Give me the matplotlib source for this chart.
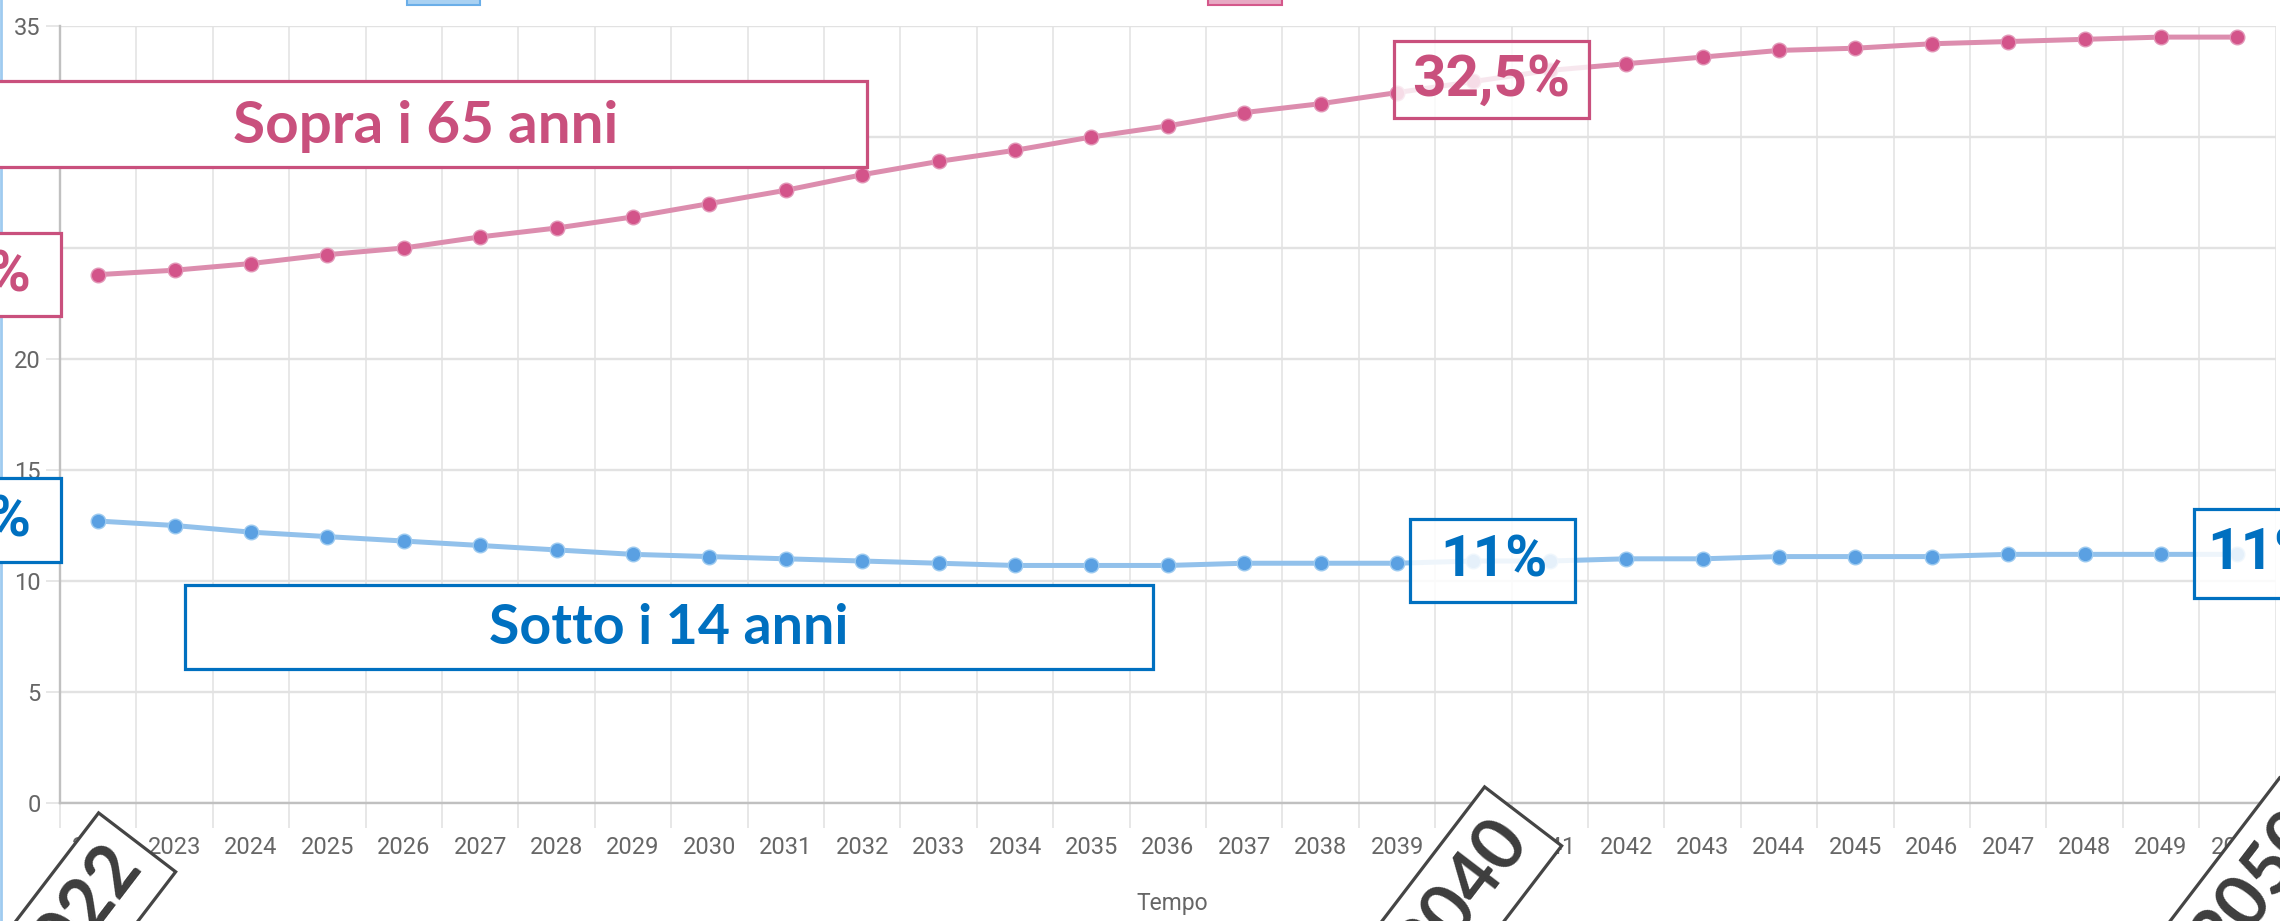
import numpy as np
import matplotlib
matplotlib.use("Agg")
import matplotlib.pyplot as plt
from matplotlib.patches import Rectangle, Polygon

years = list(range(2022, 2051))
over_65 = [23.8, 24.0, 24.3, 24.7, 25.0, 25.5, 25.9, 26.4, 27.0, 27.6,
           28.3, 28.9, 29.4, 30.0, 30.5, 31.1, 31.5, 32.0, 32.5, 33.0,
           33.3, 33.6, 33.9, 34.0, 34.2, 34.3, 34.4, 34.5, 34.5]
under_14 = [12.7, 12.5, 12.2, 12.0, 11.8, 11.6, 11.4, 11.2, 11.1, 11.0,
            10.9, 10.8, 10.7, 10.7, 10.7, 10.8, 10.8, 10.8, 10.9, 10.9,
            11.0, 11.0, 11.1, 11.1, 11.1, 11.2, 11.2, 11.2, 11.2]
y_ticks = [0, 5, 10, 15, 20, 25, 30, 35]
# 25 and 30 sit under the annotation boxes in the original
y_tick_labels = ["0", "5", "10", "15", "20", "", "", "35"]

W, H = 2280, 921
PINK = "#c9507d"
BLUE = "#0070c0"
GREY_TXT = "#666666"

plt.rcParams["font.family"] = ["Roboto", "DejaVu Sans"]

fig = plt.figure(figsize=(W / 100, H / 100), dpi=100)
ax = fig.add_axes([60 / W, 1 - 803 / H, (2275.6 - 60) / W, (803 - 26) / H])

x = np.arange(len(years))
ax.set_xlim(-0.5, len(years) - 0.5)
ax.set_ylim(0, 35)

# lines + points
ax.plot(x, over_65, color="#dc8dae", lw=3.6, zorder=3, solid_capstyle="round")
ax.plot(x, over_65, "o", ms=10.5, mfc="#d3548a", mec="#e296b7", mew=1, zorder=4)
ax.plot(x, under_14, color="#92c1eb", lw=3.6, zorder=3, solid_capstyle="round")
ax.plot(x, under_14, "o", ms=10.5, mfc="#5aa0e2", mec="#9ccaf0", mew=1, zorder=4)

# axes styling (chart.js look)
ax.set_xticks(x)
ax.set_xticklabels([str(y) for y in years])
ax.set_xticks(np.arange(-0.5, len(years), 1), minor=True)
ax.set_yticks(y_ticks)
ax.set_yticklabels(y_tick_labels)
ax.tick_params(axis="x", which="major", length=0, pad=24, labelsize=17, colors=GREY_TXT)
ax.tick_params(axis="x", which="minor", length=18, width=1.1, color="#e0e0e0")
ax.tick_params(axis="y", length=10, width=1.1, color="#e0e0e0", pad=4,
               labelsize=17, labelcolor=GREY_TXT)
ax.grid(True, axis="x", which="minor", color="#e2e2e2", lw=1.1)
ax.grid(True, axis="y", which="major", color="#e2e2e2", lw=1.7)
for s in ["top", "right"]:
    ax.spines[s].set_visible(False)
for s in ["left", "bottom"]:
    ax.spines[s].set_color("#c0c0c0")
    ax.spines[s].set_linewidth(1.7)
ax.set_axisbelow(True)

fig.text(1172 / W, 1 - 903 / H, "Tempo", ha="center", va="center",
         fontsize=16.5, color=GREY_TXT)


def fx(px):
    return px / W


def fy(py):
    return 1 - py / H


def box(x0, y0, x1, y1, ec, alpha=1.0, lw=2.3):
    r = Rectangle((fx(x0), fy(y1)), (x1 - x0) / W, (y1 - y0) / H,
                  transform=fig.transFigure, fc=(1, 1, 1, alpha), ec=ec,
                  lw=lw, zorder=5)
    fig.add_artist(r)


def label(cx, cy, s, color, size, family, ha="center"):
    fig.text(fx(cx), fy(cy), s, ha=ha, va="center", color=color,
             fontsize=size, fontweight="bold", family=family, zorder=6)


def tag(cx, cy, s, length=198, width=97, angle=52.6):
    a = np.deg2rad(angle)
    along = np.array([np.cos(a), -np.sin(a)])
    across = np.array([np.sin(a), np.cos(a)])
    c = np.array([cx, cy])
    pts = [c + i * length / 2 * along + j * width / 2 * across
           for i, j in [(-1, -1), (1, -1), (1, 1), (-1, 1)]]
    fig.add_artist(Polygon([(fx(p[0]), fy(p[1])) for p in pts], closed=True,
                           transform=fig.transFigure, fc="white", ec="#454545",
                           lw=2.3, zorder=7))
    fig.text(fx(cx), fy(cy), s, ha="center", va="center", rotation=angle,
             rotation_mode="anchor", fontsize=52, fontweight="bold",
             color="#3d3d3d", family=["Lato", "DejaVu Sans"], zorder=8)


# legend remnants at the top edge
fig.add_artist(Rectangle((fx(407), fy(5)), 73 / W, 10 / H, transform=fig.transFigure,
                         fc="#a9d1f2", ec="#6aaee8", lw=1.5, zorder=5))
fig.add_artist(Rectangle((fx(1208), fy(5)), 74 / W, 10 / H, transform=fig.transFigure,
                         fc="#e7a9c3", ec="#d4588b", lw=1.5, zorder=5))

# thin light-blue border on the left edge
fig.add_artist(plt.Line2D([fx(1), fx(1)], [0, 1], transform=fig.transFigure,
                          color="#9fcbf0", lw=2, zorder=5))

# category boxes
box(-10, 81, 867, 167, PINK)
label(426, 126, "Sopra i 65 anni", PINK, 42, ["Lato", "DejaVu Sans"])
box(185, 585, 1153, 669, BLUE)
label(669, 628, "Sotto i 14 anni", BLUE, 40, ["Lato", "DejaVu Sans"])

# value boxes
box(1394, 41, 1589, 118, PINK, alpha=0.8)
label(1491, 80, "32,5%", PINK, 42, ["Roboto", "DejaVu Sans"])
box(1410, 519, 1575, 602, BLUE, alpha=0.85)
label(1494, 561, "11%", BLUE, 41, ["Roboto", "DejaVu Sans"])
box(2194, 509, 2400, 598, BLUE, alpha=0.85)
label(2207, 554, "11%", BLUE, 42, ["Roboto", "DejaVu Sans"], ha="left")
box(-200, 233, 61, 316, PINK)
label(31, 275, "23,8%", PINK, 42, ["Roboto", "DejaVu Sans"], ha="right")
box(-200, 478, 61, 562, BLUE)
label(31, 520, "12,7%", BLUE, 42, ["Roboto", "DejaVu Sans"], ha="right")

# rotated year tags
tag(77, 921, "2022")
tag(1463, 895, "2040")
tag(2258, 886, "2050")

fig.savefig("out.png", dpi=100)
